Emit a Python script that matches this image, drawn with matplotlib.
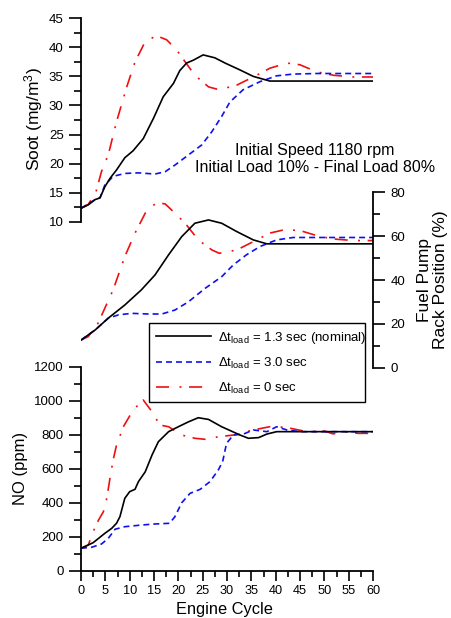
import numpy as np
import matplotlib
matplotlib.use("Agg")
import matplotlib.pyplot as plt
from matplotlib.ticker import MultipleLocator
from matplotlib.lines import Line2D

plt.rcParams['font.family'] = ['Liberation Sans', 'DejaVu Sans']
plt.rcParams['mathtext.fontset'] = 'custom'
plt.rcParams['mathtext.rm'] = 'Liberation Sans'
plt.rcParams['mathtext.it'] = 'Liberation Sans:italic'
plt.rcParams['lines.scale_dashes'] = False

# ---- soot (mg/m3) vs engine cycle ----
soot_nom_x = [0, 1.5, 2.9, 3.9, 4.9, 6.0, 7.3, 9.0, 10.7, 12.8, 14.9, 16.9, 19.0, 20.3, 21.7,
              23.1, 25.1, 27.5, 29.6, 32.7, 35.4, 38.8, 60]
soot_nom_y = [12.3, 12.9, 13.8, 14.1, 16.0, 17.5, 18.9, 21.0, 22.2, 24.3, 27.8, 31.5, 33.8, 36.0, 37.3,
              37.8, 38.7, 38.2, 37.3, 36.1, 35.0, 34.2, 34.2]

soot_slow_x = [0, 2.9, 3.9, 4.9, 6.6, 9.0, 11.8, 15.2, 17.3, 19.4, 22.1, 24.8, 26.9, 28.9,
               30.6, 33.3, 36.8, 40.2, 43.6, 48.4, 60]
soot_slow_y = [12.3, 13.8, 14.1, 16.3, 17.8, 18.3, 18.4, 18.2, 18.6, 19.8, 21.5, 23.2, 25.5, 28.1,
               30.6, 32.7, 34.1, 35.1, 35.4, 35.5, 35.5]

soot_fast_x = [0, 1.5, 3.0, 4.2, 5.6, 7.3, 9.4, 11.1, 13.2, 15.5, 17.6, 19.7, 21.4, 23.4, 26.2,
               28.4, 32.0, 35.4, 38.8, 42.3, 45.0, 48.4, 51.8, 56, 60]
soot_fast_y = [12.3, 13.0, 14.9, 18.6, 21.5, 27.2, 33.2, 37.5, 41.0, 42.0, 41.3, 39.5, 37.5, 35.2, 33.2,
               32.7, 33.5, 34.9, 36.4, 37.3, 37.0, 35.8, 35.2, 34.9, 34.9]

# ---- fuel pump rack position (%) ----
rack_nom_x = [0, 2.9, 5.6, 9.0, 12.4, 15.2, 18.0, 20.7, 23.4, 26.2, 28.9, 32.0, 35.4, 38.2, 60]
rack_nom_y = [12.6, 17.2, 22.6, 28.6, 35.5, 42.3, 51.5, 59.8, 65.9, 67.4, 65.9, 62.1, 58.3, 56.5, 56.5]

rack_slow_x = [0, 2.9, 5.6, 7.7, 10.4, 13.8, 16.6, 19.3, 22.1, 25.5, 28.9, 31.3, 34.0, 36.8,
               40.2, 43.6, 60]
rack_slow_y = [12.6, 17.2, 22.6, 24.1, 24.8, 24.5, 24.5, 26.3, 30.1, 36.2, 41.5, 46.9, 51.5, 55.3,
               58.3, 59.4, 59.4]

rack_fast_x = [0, 1.5, 3.5, 6.6, 9.0, 11.1, 13.2, 15.2, 16.2, 17.3, 19.3, 21.4, 24.1, 26.9, 28.4,
               32.0, 35.4, 38.8, 42.3, 45.7, 49.1, 52.5, 56, 60]
rack_fast_y = [12.6, 14.2, 20.3, 35.5, 50.7, 61.4, 70.5, 74.7, 75.1, 74.7, 70.5, 65.9, 58.3, 53.7, 52.2,
               53.7, 57.5, 61.4, 63.2, 62.1, 59.8, 58.6, 58.0, 58.0]

# ---- NO (ppm) ----
no_nom_x = [0, 2.5, 4.9, 6.3, 7.3, 8.0, 9.0, 10.0, 11.1, 11.8, 13.2, 14.6, 15.9, 18.0, 20.0, 22.1,
            24.1, 26.2, 28.9, 32.7, 34.4, 36.5, 38.2, 40.2, 60]
no_nom_y = [132, 165, 220, 249, 279, 318, 426, 465, 479, 524, 582, 681, 759, 818, 847, 876,
            900, 890, 847, 798, 779, 783, 804, 818, 818]

no_slow_x = [0, 2.2, 4.2, 5.6, 7.0, 9.0, 12.5, 15.2, 18.2, 19.3, 20.7, 22.4, 24.5, 26.5, 28.2, 29.1,
             29.9, 31.3, 33.4, 35.4, 38.2, 40.2, 42.3, 45, 60]
no_slow_y = [132, 138, 157, 190, 244, 259, 269, 275, 279, 318, 400, 455, 479, 524, 592, 641,
             749, 798, 804, 828, 818, 847, 828, 818, 818]

no_fast_x = [0, 1.5, 2.5, 3.6, 4.6, 5.3, 5.9, 6.6, 7.3, 8.7, 10.0, 11.4, 12.8, 14.6, 16.2, 18.0,
             20.7, 23.4, 25.5, 28.2, 31.3, 35.4, 39.5, 43.0, 46.4, 50.0, 51.8, 54, 57, 60]
no_fast_y = [132, 151, 230, 298, 347, 426, 534, 651, 739, 847, 910, 965, 1004, 935, 857, 847,
             798, 779, 773, 788, 798, 828, 851, 838, 818, 822, 805, 818, 808, 808]

labels = [r'$\Delta\mathrm{t}_{\mathrm{load}}$ = 1.3 sec (nominal)',
          r'$\Delta\mathrm{t}_{\mathrm{load}}$ = 3.0 sec',
          r'$\Delta\mathrm{t}_{\mathrm{load}}$ = 0 sec']

LW = 1.2
nom_style = dict(color='black', lw=LW, linestyle='-')
slow_style = dict(color='#1010ee', lw=LW, dashes=(4.3, 2.9))
fast_style = dict(color='#ee1010', lw=LW, dashes=(9.4, 7.5, 1.4, 5.5))

fig = plt.figure(figsize=(4.51, 6.18), dpi=100)
L = 81 / 451
W = 292 / 451
ax1 = fig.add_axes([L, 0.6413, W, 0.3291])
ax2 = fig.add_axes([L, 0.4050, W, 0.2838])
ax3 = fig.add_axes([L, 0.0765, W, 0.3301])

for ax in (ax1, ax2, ax3):
    ax.set_facecolor('none')
    ax.set_xlim(0, 60)
    for s in ax.spines.values():
        s.set_linewidth(1.3)
    ax.tick_params(which='major', length=8.5, width=1.2, labelsize=9.5, pad=4)
    ax.tick_params(which='minor', length=5, width=1.2)

# top: soot
ax1.plot(soot_fast_x, soot_fast_y, **fast_style)
ax1.plot(soot_slow_x, soot_slow_y, **slow_style)
ax1.plot(soot_nom_x, soot_nom_y, **nom_style)
ax1.set_ylim(10, 45)
for k in ('top', 'right', 'bottom'):
    ax1.spines[k].set_visible(False)
ax1.set_xticks([])
ax1.yaxis.set_major_locator(MultipleLocator(5))
ax1.yaxis.set_minor_locator(MultipleLocator(2.5))
ax1.text(-0.162, 0.505, r'Soot (mg/m$^3$)', transform=ax1.transAxes, rotation=90,
         ha='center', va='center', fontsize=12.5)
ax1.text(48.1, 21.42, 'Initial Speed 1180 rpm', ha='center', va='baseline', fontsize=11.5)
ax1.text(48.1, 18.49, 'Initial Load 10% - Final Load 80%', ha='center', va='baseline', fontsize=11.5)

# middle: rack position
ax2.plot(rack_fast_x, rack_fast_y, **fast_style)
ax2.plot(rack_slow_x, rack_slow_y, **slow_style)
ax2.plot(rack_nom_x, rack_nom_y, **nom_style)
ax2.set_ylim(0, 80)
for k in ('top', 'left', 'bottom'):
    ax2.spines[k].set_visible(False)
ax2.set_xticks([])
ax2.yaxis.tick_right()
ax2.yaxis.set_major_locator(MultipleLocator(20))
ax2.yaxis.set_minor_locator(MultipleLocator(10))
ax2.text(1.204, 0.5, 'Fuel Pump\nRack Position (%)', transform=ax2.transAxes, rotation=90,
         ha='center', va='center', fontsize=12.5, linespacing=1.1)

# bottom: NO
ax3.plot(no_fast_x, no_fast_y, **fast_style)
ax3.plot(no_slow_x, no_slow_y, **slow_style)
ax3.plot(no_nom_x, no_nom_y, **nom_style)
ax3.set_ylim(0, 1200)
for k in ('top', 'right'):
    ax3.spines[k].set_visible(False)
ax3.yaxis.set_major_locator(MultipleLocator(200))
ax3.yaxis.set_minor_locator(MultipleLocator(100))
ax3.xaxis.set_major_locator(MultipleLocator(5))
ax3.xaxis.set_minor_locator(MultipleLocator(2.5))
ax3.tick_params(axis='x', which='major', length=7.5, pad=3, labelsize=9.2)
ax3.tick_params(axis='x', which='minor', length=4.5)
ax3.text(-0.206, 0.5, 'NO (ppm)', transform=ax3.transAxes, rotation=90,
         ha='center', va='center', fontsize=12)
fig.text(L + 0.49 * W, 0.001, 'Engine Cycle', ha='center', va='bottom', fontsize=11.8)

handles = [Line2D([], [], **nom_style), Line2D([], [], **slow_style), Line2D([], [], **fast_style)]
leg = fig.legend(handles, labels, loc='upper left',
                 bbox_to_anchor=(149 / 451, 1 - 402 / 618, 216 / 451, 79 / 618),
                 mode='expand', borderaxespad=0, fontsize=9.5, handlelength=4.2,
                 handletextpad=0.55, labelspacing=0.75, borderpad=0.5, fancybox=False,
                 framealpha=1, edgecolor='black')
leg.get_frame().set_linewidth(1.0)

fig.savefig('out.png', dpi=100)
